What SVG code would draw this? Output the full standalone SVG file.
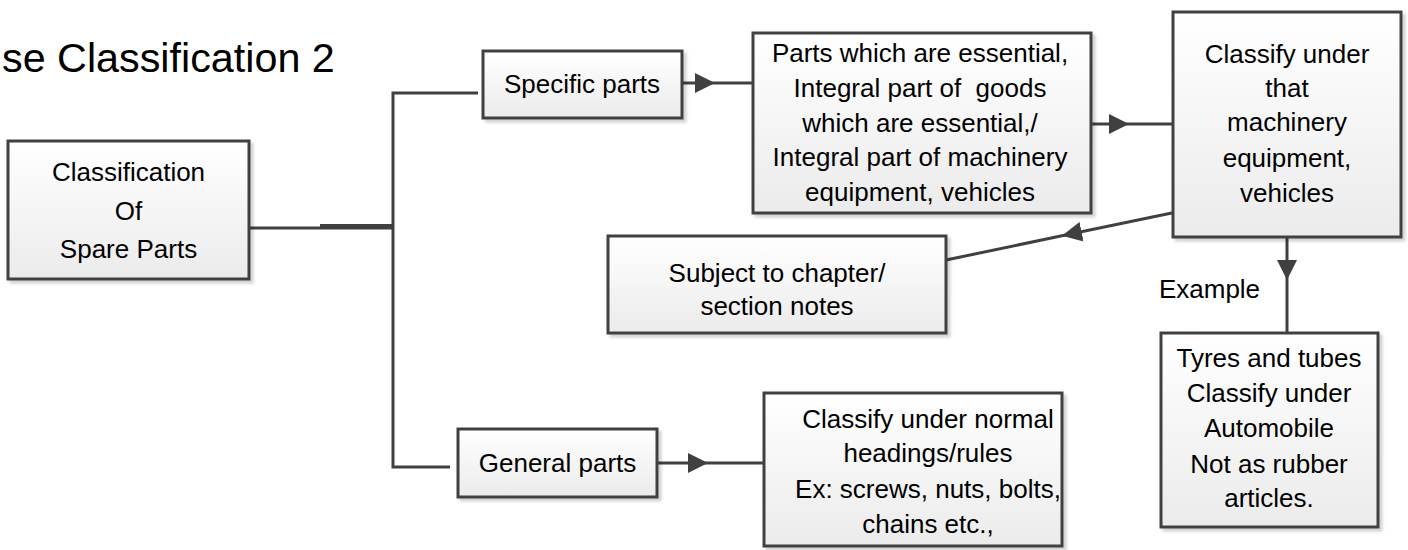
<svg xmlns="http://www.w3.org/2000/svg" width="1408" height="550" viewBox="0 0 1408 550">
<defs>
<style>
.box{fill:url(#g);stroke:#404040;stroke-width:3;filter:url(#sh)}
.t{font-family:"Liberation Sans",Arial,sans-serif;font-size:26px;fill:#000;text-anchor:middle}
.c{fill:none;stroke:#404040;stroke-width:3}
.a{marker-mid:url(#ah)}
</style>
<linearGradient id="g" x1="0" y1="0" x2="0" y2="1">
<stop offset="0" stop-color="#ffffff"/>
<stop offset="1" stop-color="#ebebeb"/>
</linearGradient>
<filter id="sh" x="-10%" y="-10%" width="130%" height="130%">
<feDropShadow dx="3" dy="3" stdDeviation="1.5" flood-color="#000" flood-opacity="0.18"/>
</filter>
<marker id="ah" markerUnits="userSpaceOnUse" viewBox="0 0 20 20" markerWidth="20" markerHeight="20" refX="20" refY="10" orient="auto">
<path d="M0,0 L20,10 L0,20 z" fill="#404040"/>
</marker>
</defs>
<rect width="1408" height="550" fill="#ffffff"/>
<text x="2" y="72" font-family="'Liberation Sans',Arial,sans-serif" font-size="41.3" text-anchor="start" fill="#000">se Classification 2</text>
<g id="connectors">
<path class="c" d="M249 228 L393 228"/>
<path class="c" d="M320 225.5 L393 225.5" stroke-width="2.5"/>
<path class="c" d="M355 227.5 L393 227.5" stroke-width="6"/>
<path class="c" d="M478 93 L393 93 L393 467 L450 467"/>
<path class="c a" d="M682 83 L715 83 L753 83"/>
<path class="c a" d="M1091 124 L1129 124 L1173 124"/>
<path class="c a" d="M1173 212.7 L1062 235.8 L946 260"/>
<path class="c a" d="M1287 237 L1287 280 L1287 333"/>
<path class="c a" d="M657 463 L708 463 L764 463"/>
<text class="t" x="1209.5" y="298" font-size="27">Example</text>
</g>
<g id="n-classification">
<rect class="box" x="8" y="141" width="241" height="138"/>
<text class="t" font-size="28.5"><tspan x="128.5" y="181">Classification</tspan><tspan x="128.5" y="220">Of</tspan><tspan x="128.5" y="258">Spare Parts</tspan></text>
</g>
<g id="n-specific">
<rect class="box" x="483" y="51" width="199" height="67"/>
<text class="t" x="582" y="93">Specific parts</text>
</g>
<g id="n-essential">
<rect class="box" x="753" y="33" width="338" height="180"/>
<text class="t" xml:space="preserve"><tspan x="920" y="62">Parts which are essential,</tspan><tspan x="920" y="97">Integral part of  goods</tspan><tspan x="920" y="131.5">which are essential,/</tspan><tspan x="920" y="166">Integral part of machinery</tspan><tspan x="920" y="200.5">equipment, vehicles</tspan></text>
</g>
<g id="n-classify-that">
<rect class="box" x="1173" y="12" width="228" height="225"/>
<text class="t"><tspan x="1287" y="63">Classify under</tspan><tspan x="1287" y="97">that</tspan><tspan x="1287" y="131">machinery</tspan><tspan x="1287" y="167">equipment,</tspan><tspan x="1287" y="202">vehicles</tspan></text>
</g>
<g id="n-subject">
<rect class="box" x="608" y="236" width="338" height="97"/>
<text class="t"><tspan x="777" y="282">Subject to chapter/</tspan><tspan x="777" y="315">section notes</tspan></text>
</g>
<g id="n-tyres">
<rect class="box" x="1161" y="333" width="217" height="194"/>
<text class="t"><tspan x="1269" y="367">Tyres and tubes</tspan><tspan x="1269" y="402">Classify under</tspan><tspan x="1269" y="437">Automobile</tspan><tspan x="1269" y="473">Not as rubber</tspan><tspan x="1269" y="507">articles.</tspan></text>
</g>
<g id="n-general">
<rect class="box" x="458" y="429" width="199" height="68"/>
<text class="t" x="557.5" y="472">General parts</text>
</g>
<g id="n-normal">
<rect class="box" x="764" y="393" width="298" height="153"/>
<text class="t"><tspan x="928" y="428">Classify under normal</tspan><tspan x="928" y="462">headings/rules</tspan><tspan x="928" y="498">Ex: screws, nuts, bolts,</tspan><tspan x="928" y="533">chains etc.,</tspan></text>
</g>
</svg>
